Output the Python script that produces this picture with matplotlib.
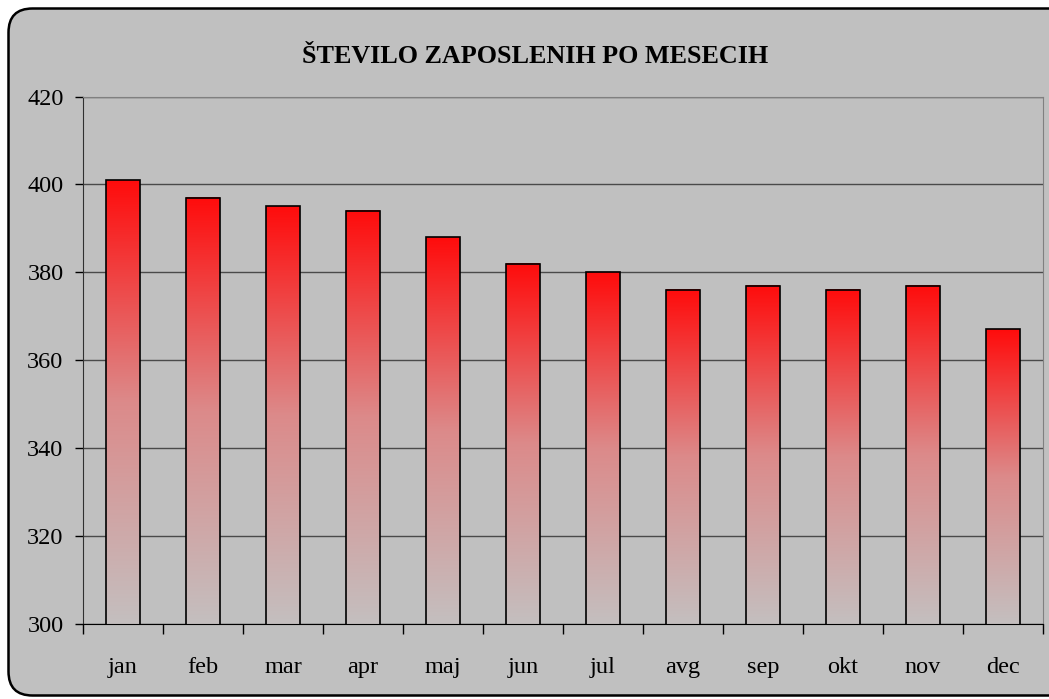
import matplotlib
matplotlib.use('Agg')
import matplotlib.pyplot as plt
import numpy as np
from matplotlib.patches import FancyBboxPatch
from matplotlib.colors import LinearSegmentedColormap

# -[Dati]-----------------------------------------------------------------------
meseci = ["jan", "feb", "mar", "apr", "maj", "jun", "jul", "avg", "sep", "okt", "nov", "dec"]
zaposleni = [401, 397, 395, 394, 388, 382, 380, 376, 377, 376, 377, 367]
yticks = [300, 320, 340, 360, 380, 400, 420]
naslov = "ŠTEVILO ZAPOSLENIH PO MESECIH"

W, H = 1049, 699
plt.rcParams['font.family'] = ['Liberation Serif', 'DejaVu Serif']

fig = plt.figure(figsize=(W/100, H/100), dpi=100, facecolor="white")

# -[Cornice arrotondata]--------------------------------------------------------
bg = fig.add_axes([0, 0, 1, 1], zorder=0)
bg.set_xlim(0, W)
bg.set_ylim(H, 0)
bg.axis("off")
frame = FancyBboxPatch((8.5, 8.5), 1070, 687, boxstyle="round,pad=0,rounding_size=24",
                       facecolor="#c0c0c0", edgecolor="black", linewidth=1.8)
bg.add_patch(frame)
bg.text(535, 63, naslov, ha="center", va="baseline", fontsize=18.8, fontweight="bold")

# -[Grafico]--------------------------------------------------------------------
ax = fig.add_axes([83/W, (H-624)/H, (1043-83)/W, (624-96.5)/H], zorder=1)
ax.set_facecolor("#c0c0c0")
x = np.arange(len(meseci))
bw = 0.42
cmap = LinearSegmentedColormap.from_list("grad", ["#c4bfbf", "#dc8a8a", "#ff0c0c"])
grad = np.linspace(0, 1, 256).reshape(-1, 1)
for xi, v in zip(x, zaposleni):
    ax.imshow(grad, extent=(xi - bw/2, xi + bw/2, yticks[0], v), origin="lower",
              aspect="auto", cmap=cmap, zorder=2, interpolation="bilinear")
ax.bar(x, zaposleni, width=bw, facecolor="none", edgecolor="black", linewidth=1.2, zorder=3)

ax.set_xlim(-0.5, len(meseci) - 0.5)
ax.set_ylim(yticks[0], yticks[-1])
ax.set_yticks(yticks)
ax.set_xticks(x)
ax.set_xticklabels(meseci, fontsize=17.5)
ax.tick_params(axis="x", length=0, pad=24)
ax.set_xticks(np.arange(len(meseci) + 1) - 0.5, minor=True)
ax.tick_params(axis="x", which="minor", length=7, width=1, direction="out")
ax.tick_params(axis="y", length=6, width=1, direction="out", labelsize=17.5, pad=8)
ax.yaxis.grid(True, color="#4a4a4a", linewidth=1)
ax.set_axisbelow(True)
for s in ["top", "right"]:
    ax.spines[s].set_color("#808080")
ax.spines["left"].set_color("#303030")
ax.spines["bottom"].set_color("black")

fig.savefig("out.png", dpi=100)
